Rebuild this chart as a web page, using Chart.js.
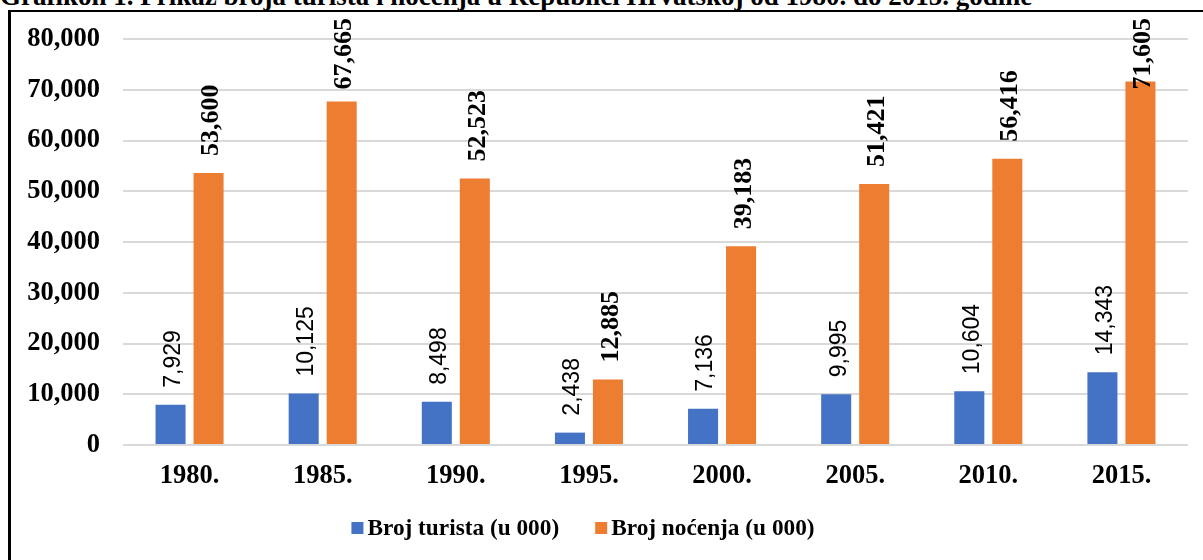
<!DOCTYPE html>
<html>
<head>
<meta charset="utf-8">
<script src="https://cdn.jsdelivr.net/npm/chart.js@4.4.1/dist/chart.umd.min.js"></script>
<style>
  html, body { margin: 0; padding: 0; background: #fff; }
  body { width: 1203px; height: 560px; position: relative; overflow: hidden; }
  #title {
    position: absolute; left: 0; top: -17px; white-space: nowrap;
    font: bold 27px/1 "Liberation Serif", "Times New Roman", serif; color: #000;
  }
  #frame {
    position: absolute; left: 8px; top: 10px; right: -10px; bottom: -10px;
    border-left: 3px solid #000; border-top: 2px solid #000;
  }
  #wrap { position: absolute; left: 0; top: 0; width: 1203px; height: 560px; }
</style>
</head>
<body>
<div id="title">Grafikon 1. Prikaz broja turista i noćenja u Republici Hrvatskoj od 1980. do 2015. godine</div>
<div id="frame"></div>
<div id="wrap"><canvas id="chart"></canvas></div>
<script>
(function (Chart) {

    "use strict";

    var years = ['1980.', '1985.', '1990.', '1995.', '2000.', '2005.', '2010.', '2015.'];
    var turisti = [7929, 10125, 8498, 2438, 7136, 9995, 10604, 14343];
    var nocenja = [53600, 67665, 52523, 12885, 39183, 51421, 56416, 71605];
    var seriesNames = ['Broj turista (u 000)', 'Broj noćenja (u 000)'];

    var serif = '"Liberation Serif", "Times New Roman", serif';
    var sans = '"Liberation Sans", Arial, sans-serif';

    var fmt = function (v) {
        return v.toLocaleString('en-US');
    };

    // rotated value labels above the bars (Excel "outside end")
    var barLabels = {
        id: 'barLabels',
        afterDatasetsDraw: function (chart) {
            var ctx = chart.ctx;
            chart.data.datasets.forEach(function (ds, i) {
                var meta = chart.getDatasetMeta(i);
                ctx.save();
                ctx.font = i === 0 ? '23px ' + sans : 'bold 26px ' + serif;
                ctx.fillStyle = '#000';
                ctx.textBaseline = 'middle';
                ctx.textAlign = 'left';
                meta.data.forEach(function (bar, j) {
                    var txt = fmt(ds.data[j]);
                    var w = ctx.measureText(txt).width;
                    var start = bar.y - 17;
                    if (start - w < 18) {
                        start = 18 + w;
                    }
                    ctx.save();
                    ctx.translate(bar.x, start);
                    ctx.rotate(-Math.PI / 2);
                    ctx.fillText(txt, 0, 3);
                    ctx.restore();
                });
                ctx.restore();
            });
        }
    };

    // legend drawn like the Excel one: small square, tight gap
    var bottomLegend = {
        id: 'bottomLegend',
        afterDraw: function (chart) {
            var ctx = chart.ctx;
            var cy = 528, box = 12, gap = 4, between = 36, centerX = 583;
            ctx.save();
            ctx.font = 'bold 23.3px ' + serif;
            var items = chart.data.datasets.map(function (ds) {
                return { text: ds.label, color: ds.backgroundColor, w: ctx.measureText(ds.label).width };
            });
            var total = 0;
            items.forEach(function (it, k) {
                total += box + gap + it.w + (k > 0 ? between : 0);
            });
            var x = centerX - total / 2;
            ctx.textBaseline = 'middle';
            items.forEach(function (it) {
                ctx.fillStyle = it.color;
                ctx.fillRect(x, cy - box / 2, box, box);
                ctx.fillStyle = '#000';
                ctx.fillText(it.text, x + box + gap, cy + 1);
                x += box + gap + it.w + between;
            });
            ctx.restore();
        }
    };

    var ctx = document.getElementById('chart').getContext('2d');

    var chart = new Chart(ctx, {
        type: 'bar',
        data: {
            labels: years,
            datasets: [{
                label: seriesNames[0],
                data: turisti,
                backgroundColor: '#4472C4',
                categoryPercentage: 0.571,
                barPercentage: 0.79
            }, {
                label: seriesNames[1],
                data: nocenja,
                backgroundColor: '#ED7D31',
                categoryPercentage: 0.571,
                barPercentage: 0.79
            }]
        },
        options: {
            responsive: true,
            maintainAspectRatio: false,
            animation: false,
            layout: {
                padding: { top: 39, right: 15, bottom: 55, left: 0 }
            },
            plugins: {
                legend: { display: false },
                tooltip: { enabled: false }
            },
            scales: {
                x: {
                    grid: { display: false },
                    border: { display: false },
                    ticks: {
                        color: '#000',
                        padding: 7,
                        font: { family: serif, size: 26.5, weight: 'bold' }
                    },
                    afterFit: function (scale) { scale.height = 60; }
                },
                y: {
                    min: 0,
                    max: 80000,
                    grid: { color: '#d9d9d9', lineWidth: 2, drawTicks: false },
                    border: { display: false },
                    ticks: {
                        stepSize: 10000,
                        color: '#000',
                        padding: 23,
                        font: { family: serif, size: 26.5, weight: 'bold' },
                        callback: function (v) { return fmt(v); }
                    },
                    afterFit: function (scale) { scale.width = 123; }
                }
            }
        },
        plugins: [barLabels, bottomLegend]
    });

})(Chart);
</script>
</body>
</html>
